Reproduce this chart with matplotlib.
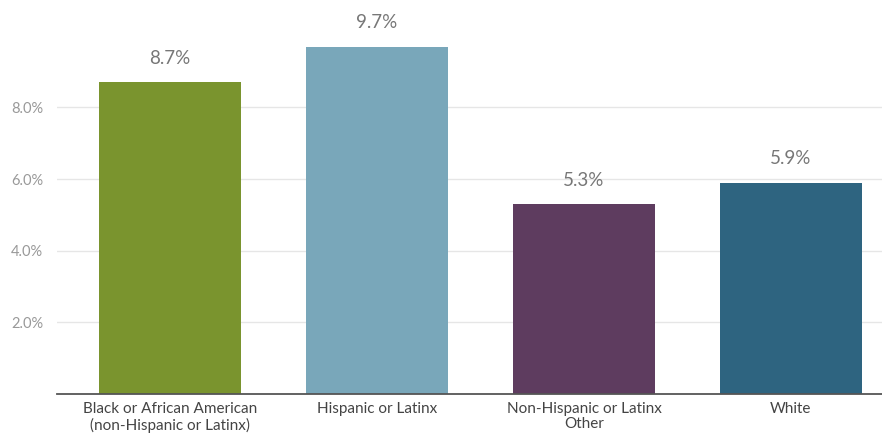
import matplotlib
matplotlib.use("Agg")
import matplotlib.pyplot as plt

categories = ["Black or African American\n(non-Hispanic or Latinx)", "Hispanic or Latinx",
              "Non-Hispanic or Latinx\nOther", "White"]
values = [8.7, 9.7, 5.3, 5.9]
colors = ["#7a942e", "#79a7ba", "#5e3c5f", "#2e6480"]
yticks = [2, 4, 6, 8]

plt.rcParams['font.family'] = ['Lato', 'DejaVu Sans']

fig = plt.figure(figsize=(8.82, 4.33), dpi=100)
ax = fig.add_axes([57 / 882, 39 / 433, 825 / 882, 394 / 433])

x = range(len(categories))
ax.bar(x, values, width=0.686, color=colors, zorder=2)

for i, v in enumerate(values):
    ax.annotate(f"{v:.1f}%", (i, v), xytext=(0, 11), textcoords="offset points",
                ha="center", va="bottom", fontsize=13.5, color="#777777")

ax.set_xlim(-0.546, 3.44)
ax.set_ylim(0, 11)
ax.set_yticks(yticks)
ax.set_yticklabels([f"{t:.1f}%" for t in yticks])
ax.set_xticks(list(x))
ax.set_xticklabels(categories, linespacing=1.1)
ax.tick_params(axis="y", length=0, pad=10, labelsize=10.5, labelcolor="#999999")
ax.tick_params(axis="x", length=0, pad=6, labelsize=11, labelcolor="#444444")
ax.grid(axis="y", color="#e6e6e6", linewidth=1, zorder=0)

for s in ["top", "right", "left"]:
    ax.spines[s].set_visible(False)
ax.spines["bottom"].set_color("#555555")
ax.spines["bottom"].set_linewidth(1.3)
ax.spines["bottom"].set_zorder(3)

fig.savefig("out.png", dpi=100)
